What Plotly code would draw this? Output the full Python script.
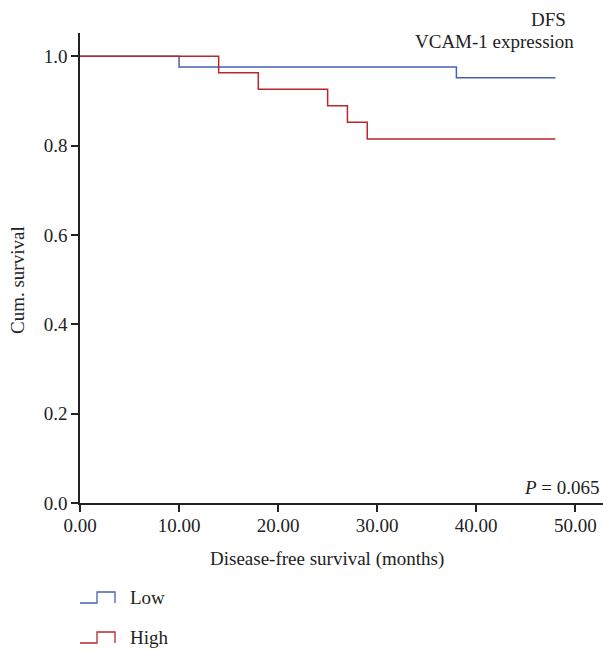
import plotly.graph_objects as go

# Kaplan-Meier step data (months, cumulative survival)
low_time = [0, 10, 38, 48]
low_surv = [1.0, 0.976, 0.952, 0.952]
high_time = [0, 14, 18, 25, 27, 29, 48]
high_surv = [1.0, 0.963, 0.926, 0.889, 0.852, 0.815, 0.815]

series_names = ["Low", "High"]
colors = ["#4662b4", "#b8272d"]

x_ticks = [0, 10, 20, 30, 40, 50]
x_ticklabels = ["0.00", "10.00", "20.00", "30.00", "40.00", "50.00"]
y_ticks = [0.0, 0.2, 0.4, 0.6, 0.8, 1.0]
y_ticklabels = ["0.0", "0.2", "0.4", "0.6", "0.8", "1.0"]

FONT = "Liberation Serif"
FS = 19

W, H = 603, 650
ML, MR, MT, MB = 80, 0, 33, 147
PW, PH = W - ML - MR, H - MT - MB


def px_x(x):
    return (x - ML) / PW


def px_y(y):
    return (H - MB - y) / PH


fig = go.Figure()
for t, s, name, c in [(low_time, low_surv, series_names[0], colors[0]),
                      (high_time, high_surv, series_names[1], colors[1])]:
    fig.add_trace(go.Scatter(x=t, y=s, mode="lines", name=name,
                             line=dict(shape="hv", color=c, width=1.5),
                             showlegend=False))

fig.update_layout(
    width=W, height=H,
    margin=dict(l=ML, r=MR, t=MT, b=MB),
    paper_bgcolor="white", plot_bgcolor="white",
    font=dict(family=FONT, size=FS, color="#222222"),
    xaxis=dict(range=[0, 52.8], tickvals=x_ticks, ticktext=x_ticklabels,
               showline=True, linecolor="#222222", linewidth=1.5,
               ticks="outside", ticklen=7, tickwidth=1.5, tickcolor="#222222",
               showgrid=False, zeroline=False, ticklabelstandoff=-3),
    yaxis=dict(range=[0, 1.052], tickvals=y_ticks, ticktext=y_ticklabels,
               showline=True, linecolor="#222222", linewidth=1.5,
               ticks="outside", ticklen=7, tickwidth=1.5, tickcolor="#222222",
               showgrid=False, zeroline=False),
)

# Axis titles
fig.add_annotation(xref="paper", yref="paper", x=px_x(327), y=px_y(559),
                   xanchor="center", yanchor="middle", showarrow=False,
                   text="Disease-free survival (months)", font=dict(size=FS))
fig.add_annotation(xref="paper", yref="paper", x=px_x(17), y=px_y(280),
                   xanchor="center", yanchor="middle", showarrow=False,
                   textangle=-90, text="Cum. survival", font=dict(size=FS))

# Header text
fig.add_annotation(xref="paper", yref="paper", x=px_x(568), y=px_y(20),
                   xanchor="right", yanchor="middle", text="DFS",
                   showarrow=False, font=dict(size=FS))
fig.add_annotation(xref="paper", yref="paper", x=px_x(576), y=px_y(42),
                   xanchor="right", yanchor="middle", text="VCAM-1 expression",
                   showarrow=False, font=dict(size=FS))
fig.add_annotation(xref="paper", yref="paper", x=px_x(602), y=px_y(487),
                   xanchor="right", yanchor="middle", text="<i>P</i> = 0.065",
                   showarrow=False, font=dict(size=FS))

# Custom legend with step icons
legend_y_px = [597, 637]
for name, c, ypx in zip(series_names, colors, legend_y_px):
    yb = px_y(ypx + 6)
    yt = px_y(ypx - 5)
    x0, xm, x1 = px_x(80), px_x(97), px_x(115)
    fig.add_shape(type="path", xref="paper", yref="paper",
                  path=f"M {x0} {yb} L {xm} {yb} L {xm} {yt} L {x1} {yt} L {x1} {yb}",
                  line=dict(color=c, width=1.3))
    fig.add_annotation(xref="paper", yref="paper", x=px_x(128),
                       y=px_y(ypx), xanchor="left", yanchor="middle",
                       text=name, showarrow=False, font=dict(size=FS))

fig.write_html("out.html", config={"displayModeBar": False},
               post_script="document.body.style.margin='0';document.body.style.overflow='hidden';")
